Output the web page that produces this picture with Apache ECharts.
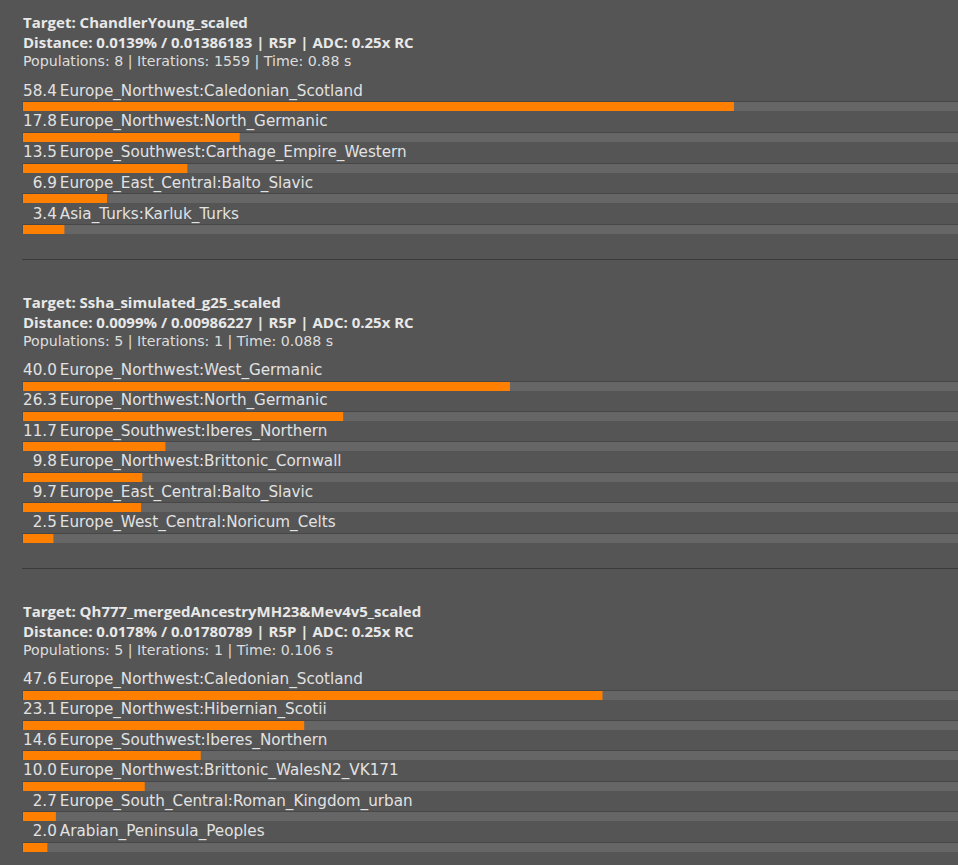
<!DOCTYPE html>
<html><head><meta charset="utf-8">
<script src="https://cdn.jsdelivr.net/npm/echarts@6/dist/echarts.min.js"></script>
<style>html,body{margin:0;padding:0;background:#555555;} #chart{width:958px;height:865px;}</style>
</head><body><div id="chart"></div>
<script>
const targetLines = [
  'Target: ChandlerYoung_scaled',
  'Target: Ssha_simulated_g25_scaled',
  'Target: Qh777_mergedAncestryMH23&Mev4v5_scaled'
];
const distanceLines = [
  'Distance: 0.0139% / 0.01386183 | R5P | ADC: 0.25x RC',
  'Distance: 0.0099% / 0.00986227 | R5P | ADC: 0.25x RC',
  'Distance: 0.0178% / 0.01780789 | R5P | ADC: 0.25x RC'
];
const infoLines = [
  'Populations: 8 | Iterations: 1559 | Time: 0.88 s',
  'Populations: 5 | Iterations: 1 | Time: 0.088 s',
  'Populations: 5 | Iterations: 1 | Time: 0.106 s'
];
const names1 = ['Europe_Northwest:Caledonian_Scotland','Europe_Northwest:North_Germanic','Europe_Southwest:Carthage_Empire_Western','Europe_East_Central:Balto_Slavic','Asia_Turks:Karluk_Turks'];
const values1 = [58.4, 17.8, 13.5, 6.9, 3.4];
const names2 = ['Europe_Northwest:West_Germanic','Europe_Northwest:North_Germanic','Europe_Southwest:Iberes_Northern','Europe_Northwest:Brittonic_Cornwall','Europe_East_Central:Balto_Slavic','Europe_West_Central:Noricum_Celts'];
const values2 = [40.0, 26.3, 11.7, 9.8, 9.7, 2.5];
const names3 = ['Europe_Northwest:Caledonian_Scotland','Europe_Northwest:Hibernian_Scotii','Europe_Southwest:Iberes_Northern','Europe_Northwest:Brittonic_WalesN2_VK171','Europe_South_Central:Roman_Kingdom_urban','Arabian_Peninsula_Peoples'];
const values3 = [47.6, 23.1, 14.6, 10.0, 2.7, 2.0];

const blockNames = [names1, names2, names3];
const blockValues = [values1, values2, values3];

const FONT = '"DejaVu Sans", sans-serif';
const HEAD_FONT = '"Open Sans", sans-serif';
const ROW_SIZE = 15.2;
const HEAD_SIZE = 15;
const INFO_SIZE = 14.2;
const TEXT_COLOR = '#e2e2e2';

// layout per block
const blockOffsets = [0, 280, 589];
const rowPitch = [30.75, 30.4, 30.4];
const firstLabelY = [90.5, 370, 679];

const measureCtx = document.createElement('canvas').getContext('2d');
measureCtx.font = ROW_SIZE + 'px ' + FONT;
const numWidths = blockValues.map(vals => Math.max.apply(null, vals.map(v => measureCtx.measureText(v.toFixed(1)).width)));

const chart = echarts.init(document.getElementById('chart'), null, {renderer: 'svg'});

const titles = [];
blockOffsets.forEach((off, b) => {
  titles.push({left: 23, top: off + 22 - 10, padding: 0, text: targetLines[b], textStyle: {fontFamily: HEAD_FONT, fontSize: HEAD_SIZE, fontWeight: 'bold', color: '#e8e8e8', lineHeight: 20}});
  titles.push({left: 23, top: off + 42 - 10, padding: 0, text: distanceLines[b], textStyle: {fontFamily: HEAD_FONT, fontSize: HEAD_SIZE, fontWeight: 'bold', color: '#e8e8e8', lineHeight: 20}});
  titles.push({left: 23, top: off + 60.5 - 10, padding: 0, text: infoLines[b], textStyle: {fontFamily: FONT, fontSize: INFO_SIZE, fontWeight: 'normal', color: '#dddddd', lineHeight: 20}});
});

const grids = [], xAxes = [], yAxes = [], series = [];
blockValues.forEach((vals, b) => {
  const n = vals.length;
  const yc0 = firstLabelY[b] + 6;
  grids.push({left: 23, right: 0, top: yc0 - rowPitch[b] / 2, height: rowPitch[b] * n});
  xAxes.push({type: 'value', gridIndex: b, min: 0, max: 76.8, show: false});
  yAxes.push({type: 'category', gridIndex: b, inverse: true, show: false, data: blockNames[b]});
  series.push({
    type: 'custom',
    xAxisIndex: b, yAxisIndex: b,
    encode: {x: 0, y: 1},
    data: vals.map((v, i) => [v, i]),
    renderItem: function (params, api) {
      const v = api.value(0), idx = api.value(1);
      const cs = params.coordSys;
      const p0 = api.coord([0, idx]);
      const p1 = api.coord([v, idx]);
      const yc = p0[1];
      const ly = Math.floor(yc + 5);
      const nw = numWidths[b];
      return {
        type: 'group',
        children: [
          {type: 'rect', shape: {x: cs.x - 1, y: ly, width: cs.width + 1, height: 1}, style: {fill: '#474747'}},
          {type: 'rect', shape: {x: cs.x - 1, y: ly, width: 1, height: 10}, style: {fill: '#4c4c4c'}},
          {type: 'rect', shape: {x: cs.x, y: ly + 1, width: cs.width, height: 9}, style: {fill: '#666666'}},
          {type: 'rect', shape: {x: cs.x, y: ly + 1, width: p1[0] - p0[0], height: 9}, style: {fill: '#ff8000'}},
          {type: 'text', style: {x: cs.x + nw, y: yc - 6, text: v.toFixed(1), align: 'right', verticalAlign: 'middle', fill: TEXT_COLOR, fontSize: ROW_SIZE, fontFamily: FONT}},
          {type: 'text', style: {x: cs.x + nw + 3, y: yc - 6, text: blockNames[b][idx], align: 'left', verticalAlign: 'middle', fill: TEXT_COLOR, fontSize: ROW_SIZE, fontFamily: FONT}}
        ]
      };
    }
  });
});

chart.setOption({
  backgroundColor: '#555555',
  animation: false,
  title: titles,
  grid: grids,
  xAxis: xAxes,
  yAxis: yAxes,
  series: series,
  graphic: [
    {type: 'rect', shape: {x: 22, y: 259, width: 936, height: 1}, style: {fill: '#3a3a3a'}},
    {type: 'rect', shape: {x: 22, y: 568, width: 936, height: 1}, style: {fill: '#3a3a3a'}}
  ]
});
</script>
</body></html>
